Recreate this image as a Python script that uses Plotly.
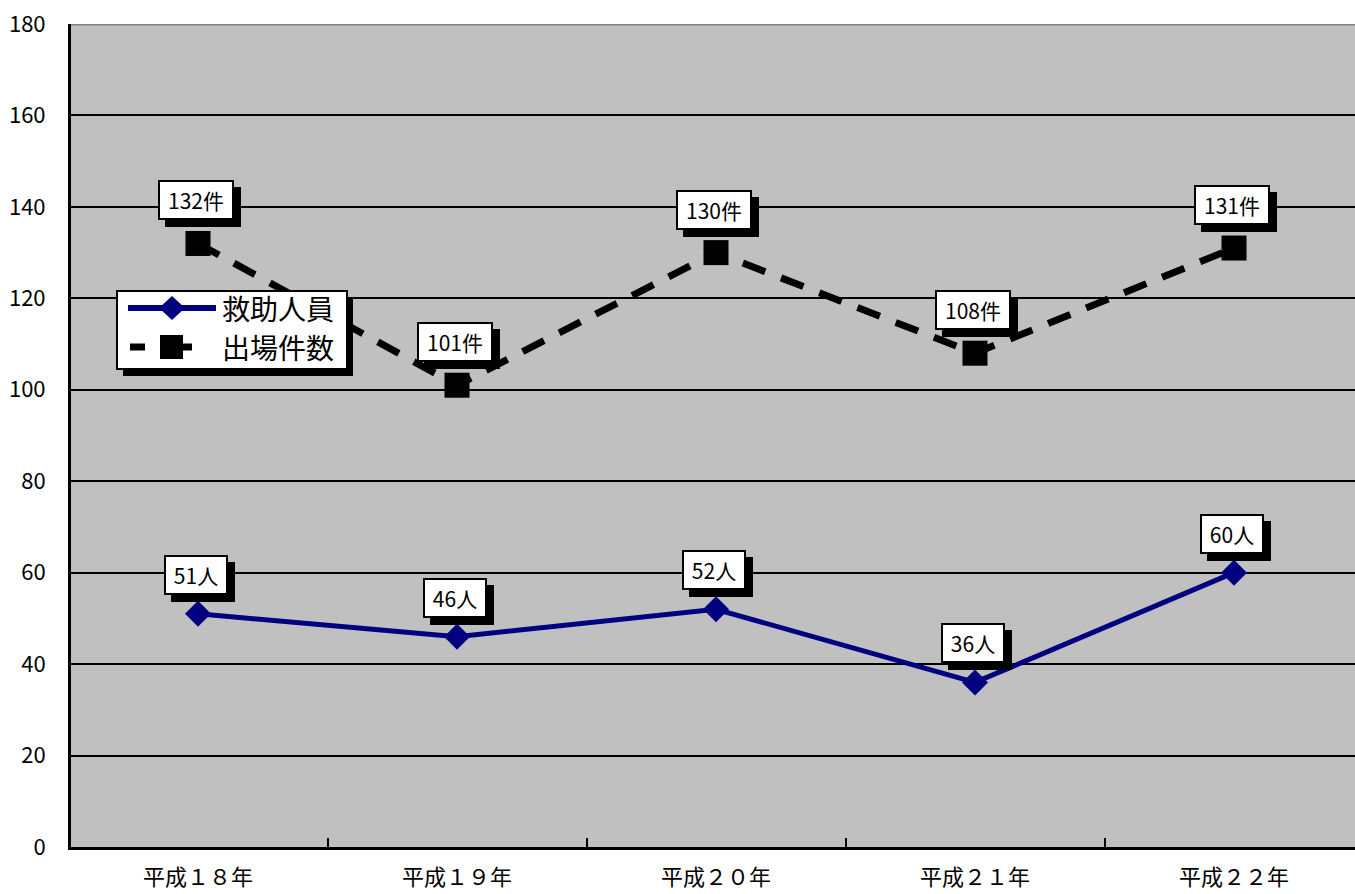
import plotly.graph_objects as go

# ---- data ----
years = ["平成１８年", "平成１９年", "平成２０年", "平成２１年", "平成２２年"]
rescued = [51, 46, 52, 36, 60]          # 救助人員
dispatches = [132, 101, 130, 108, 131]  # 出場件数
y_ticks = [0, 20, 40, 60, 80, 100, 120, 140, 160, 180]

NAVY = "#000080"
BG = "#C0C0C0"
FONT = "Noto Sans CJK JP"

W, H = 1355, 894
ML, MR, MT, MB = 71, 0, 24, 47
PW, PH = W - ML - MR, H - MT - MB
STEP = 259.0  # px per category
x_lo = -(198 - ML) / STEP
x_hi = x_lo + PW / STEP


def px(x):
    return (x - ML) / PW


def py(y):
    return (H - MB - y) / PH


fig = go.Figure()

fig.add_trace(go.Scatter(
    x=years, y=dispatches, name="出場件数", mode="lines+markers",
    line=dict(color="black", width=7, dash="24px,17px"),
    marker=dict(symbol="square", size=25, color="black"),
    showlegend=False,
))
fig.add_trace(go.Scatter(
    x=years, y=rescued, name="救助人員", mode="lines+markers",
    line=dict(color=NAVY, width=5),
    marker=dict(symbol="diamond", size=20, color=NAVY),
    showlegend=False,
))

# data labels: white boxes with a black drop shadow
annotations = []


def add_label(x, y, text, lift, width):
    # shadow box (no text)
    annotations.append(dict(
        x=x, y=y, xref="x", yref="y", text=" ", showarrow=False,
        xshift=5, yshift=lift - 7,
        width=width, height=34, bgcolor="black", bordercolor="black",
        borderwidth=2, borderpad=1,
        font=dict(family=FONT, size=21, color="black"),
    ))
    annotations.append(dict(
        x=x, y=y, xref="x", yref="y", text=text, showarrow=False,
        xshift=-2, yshift=lift,
        width=width, height=34, bgcolor="white", bordercolor="black",
        borderwidth=2, borderpad=1,
        font=dict(family=FONT, size=21, color="black"),
    ))


for x, v in zip(years, dispatches):
    add_label(x, v, f"{v}件", 43, 70)
for x, v in zip(years, rescued):
    add_label(x, v, f"{v}人", 39, 58)

# legend box drawn by hand
shapes = []
shapes.append(dict(type="rect", xref="paper", yref="paper",
                   x0=px(123), x1=px(353), y0=py(376), y1=py(297),
                   fillcolor="black", line=dict(width=0), layer="above"))
shapes.append(dict(type="rect", xref="paper", yref="paper",
                   x0=px(117), x1=px(347), y0=py(369), y1=py(291),
                   fillcolor="white", line=dict(color="black", width=2),
                   layer="above"))
r1, r2 = 308, 347
shapes.append(dict(type="line", xref="paper", yref="paper",
                   x0=px(128), x1=px(216), y0=py(r1), y1=py(r1),
                   line=dict(color=NAVY, width=6), layer="above"))
cx = 172
shapes.append(dict(type="path", xref="paper", yref="paper",
                   path=(f"M {px(cx-13)},{py(r1)} L {px(cx)},{py(r1-12)} "
                         f"L {px(cx+13)},{py(r1)} L {px(cx)},{py(r1+12)} Z"),
                   fillcolor=NAVY, line=dict(width=0), layer="above"))
shapes.append(dict(type="line", xref="paper", yref="paper",
                   x0=px(130), x1=px(145), y0=py(r2), y1=py(r2),
                   line=dict(color="black", width=7), layer="above"))
shapes.append(dict(type="line", xref="paper", yref="paper",
                   x0=px(180), x1=px(192), y0=py(r2), y1=py(r2),
                   line=dict(color="black", width=7), layer="above"))
shapes.append(dict(type="rect", xref="paper", yref="paper",
                   x0=px(160), x1=px(183), y0=py(r2 + 12), y1=py(r2 - 12),
                   fillcolor="black", line=dict(width=0), layer="above"))
for name, ry in (("救助人員", r1), ("出場件数", r2)):
    annotations.append(dict(
        x=px(220), y=py(ry), xref="paper", yref="paper", text=name,
        showarrow=False, xanchor="left", yanchor="middle",
        font=dict(family=FONT, size=28, color="black"),
    ))

# top border of the plot area
shapes.append(dict(type="line", xref="paper", yref="y",
                   x0=0, x1=1, y0=180, y1=180,
                   line=dict(color="#808080", width=3), layer="above"))

fig.update_layout(
    width=W, height=H,
    margin=dict(l=ML, r=MR, t=MT, b=MB, pad=0, autoexpand=False),
    paper_bgcolor="white", plot_bgcolor=BG,
    shapes=shapes, annotations=annotations,
    showlegend=False,
)
fig.update_xaxes(
    type="category", categoryorder="array", categoryarray=years,
    range=[x_lo, x_hi], showgrid=False, automargin=False,
    showline=True, linecolor="black", linewidth=3,
    ticks="inside", tickson="boundaries", ticklen=9, tickwidth=2,
    tickcolor="black", ticklabelstandoff=9,
    tickfont=dict(family=FONT, size=22, color="black"),
)
fig.update_yaxes(
    range=[0, 180], tickvals=y_ticks, showgrid=True, automargin=False,
    gridcolor="black", gridwidth=2, zeroline=False,
    showline=True, linecolor="black", linewidth=3,
    ticks="inside", ticklen=9, tickwidth=2, tickcolor="black",
    ticklabelstandoff=18,
    tickfont=dict(family=FONT, size=22, color="black"),
)

fig.write_html("out.html")
